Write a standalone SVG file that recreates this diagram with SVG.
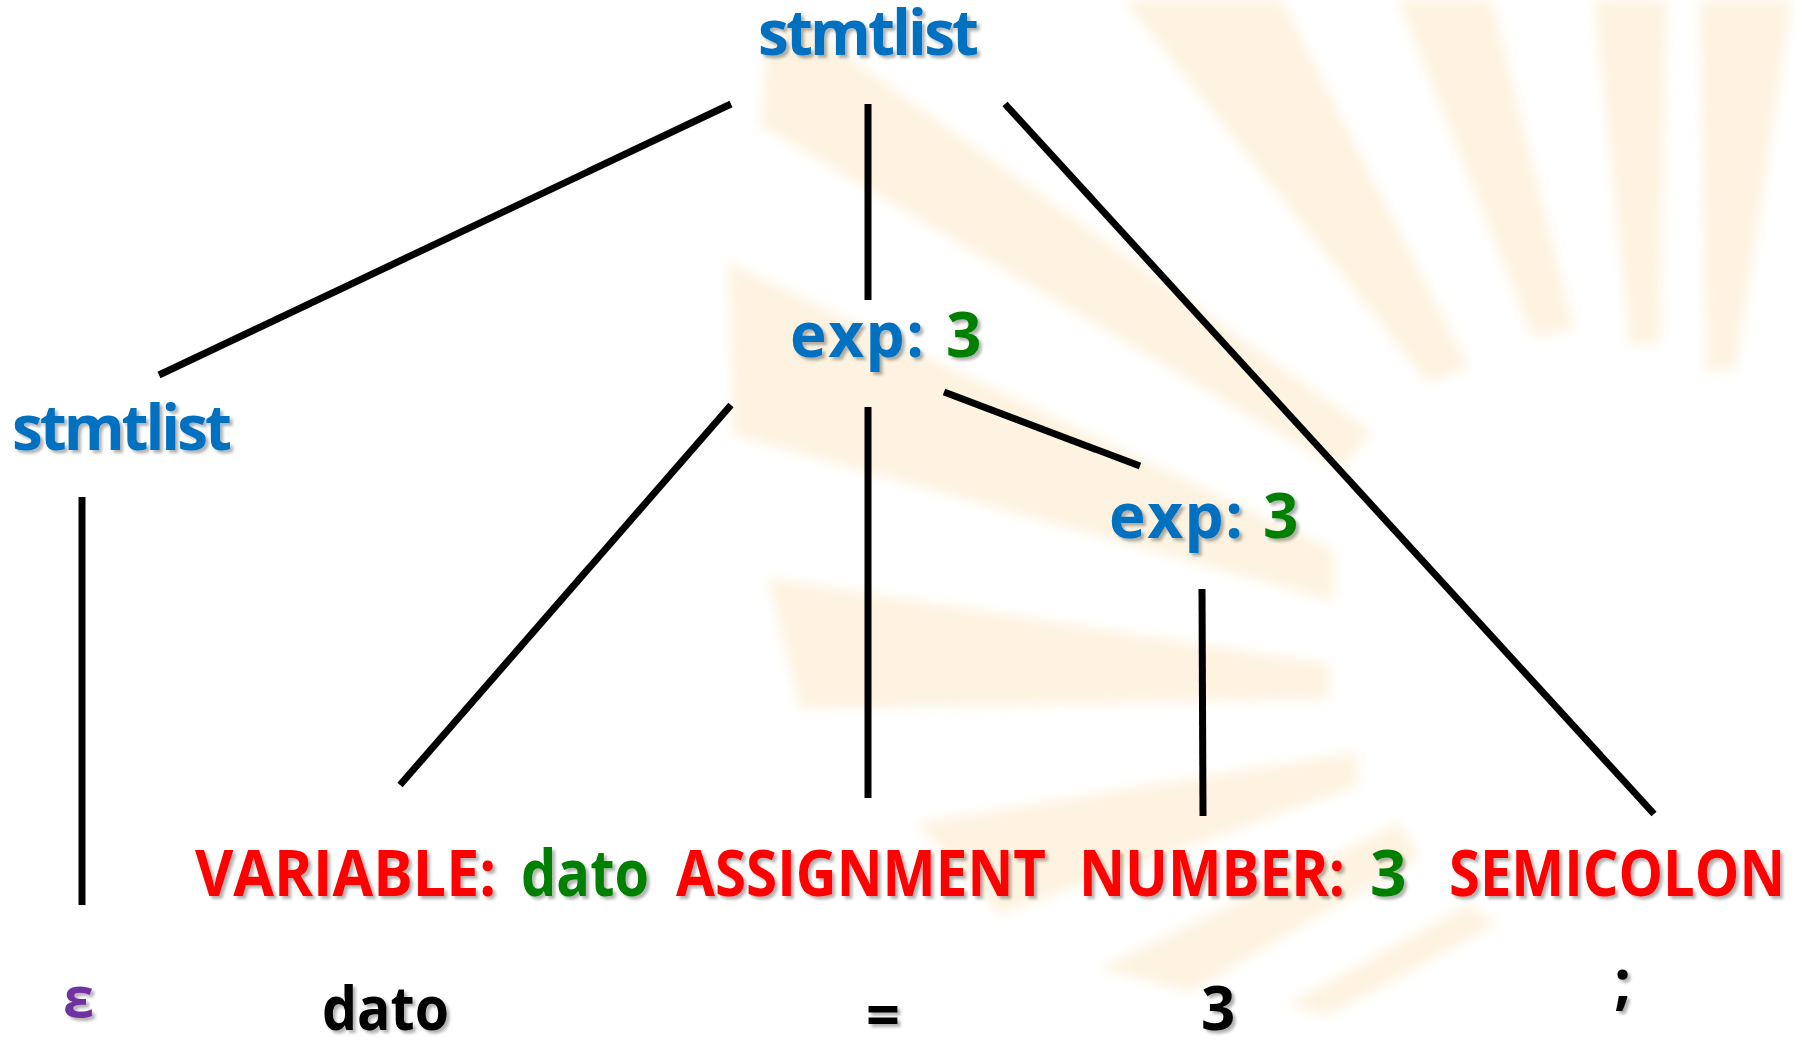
<svg xmlns="http://www.w3.org/2000/svg" width="1796" height="1046" viewBox="0 0 1796 1046">
<defs>
<filter id="blur" x="-10%" y="-10%" width="120%" height="120%"><feGaussianBlur stdDeviation="6"/></filter>
<filter id="sh" x="-5%" y="-20%" width="115%" height="150%">
<feGaussianBlur in="SourceAlpha" stdDeviation="1.6"/>
<feOffset dx="3" dy="3" result="o"/>
<feFlood flood-color="#000" flood-opacity="0.3"/>
<feComposite in2="o" operator="in"/>
<feMerge><feMergeNode/><feMergeNode in="SourceGraphic"/></feMerge>
</filter>
<style>
.ray{fill:#F9D9A0;opacity:0.32}
.t{font-family:"Open Sans","Noto Sans","DejaVu Sans",sans-serif;font-weight:bold;filter:url(#sh)}
.nt{font-size:62px;fill:#0070C0}
.tok{font-size:64px;fill:#FF0000}
.val{fill:#008000}
.lex{font-size:60px;fill:#000}
.eps{font-size:56px;fill:#7030A0}
.edge{stroke:#000;stroke-width:7;fill:none}
</style>
</defs>
<rect width="1796" height="1046" fill="#fff"/>
<g id="background" filter="url(#blur)">
<polygon class="ray" points="1427,382 1469,368 1282,0 1124,0"/>
<polygon class="ray" points="1532,336 1574,330 1492,0 1398,0"/>
<polygon class="ray" points="1630,345 1660,343 1667,0 1594,0"/>
<polygon class="ray" points="1706,372 1736,368 1792,0 1700,0"/>
<polygon class="ray" points="1372,432 1340,470 760,125 768,40 800,22"/>
<polygon class="ray" points="1334,550 1334,601 733,435 728,262"/>
<polygon class="ray" points="1329,664 1329,699 800,709 768,578"/>
<polygon class="ray" points="1357,752 1357,786 1000,914 917,823"/>
<polygon class="ray" points="1399,823 1420,857 1190,992 1100,968"/>
<polygon class="ray" points="1469,904 1497,924 1329,1015 1287,1005"/>
</g>
<g id="connectors">
<line class="edge" x1="731" y1="104" x2="159" y2="375"/>
<line class="edge" x1="868" y1="104" x2="868" y2="300"/>
<line class="edge" x1="1005" y1="104" x2="1654" y2="814"/>
<line class="edge" x1="82" y1="497" x2="82" y2="905"/>
<line class="edge" x1="731" y1="405" x2="400" y2="785"/>
<line class="edge" x1="868" y1="407" x2="868" y2="798"/>
<line class="edge" x1="944" y1="392" x2="1140" y2="466"/>
<line class="edge" x1="1202" y1="589" x2="1203" y2="816"/>
</g>
<g id="stmtlist-root"><text class="t nt" x="758" y="55" textLength="221">stmtlist</text></g>
<g id="stmtlist-left"><text class="t nt" x="12" y="450" textLength="220">stmtlist</text></g>
<g id="exp-outer"><text class="t nt" x="790" y="357" textLength="134">exp:</text><text class="t nt val" x="946" y="357">3</text></g>
<g id="exp-inner"><text class="t nt" x="1109" y="538" textLength="134">exp:</text><text class="t nt val" x="1263" y="538">3</text></g>
<g id="tok-variable"><text class="t tok" x="195" y="896" textLength="301" lengthAdjust="spacingAndGlyphs">VARIABLE:</text><text class="t tok val" x="521" y="896" textLength="128" lengthAdjust="spacingAndGlyphs">dato</text></g>
<g id="tok-assignment"><text class="t tok" x="676" y="896" textLength="370" lengthAdjust="spacingAndGlyphs">ASSIGNMENT</text></g>
<g id="tok-number"><text class="t tok" x="1079" y="896" textLength="266" lengthAdjust="spacingAndGlyphs">NUMBER:</text><text class="t tok val" x="1370" y="896">3</text></g>
<g id="tok-semicolon"><text class="t tok" x="1449" y="896" textLength="336" lengthAdjust="spacingAndGlyphs">SEMICOLON</text></g>
<g id="lex-eps"><text class="t eps" x="63" y="1017">ε</text></g>
<g id="lex-dato"><text class="t lex" x="322" y="1030" textLength="127" lengthAdjust="spacingAndGlyphs">dato</text></g>
<g id="lex-eq"><text class="t lex" x="866" y="1036" textLength="34" lengthAdjust="spacingAndGlyphs">=</text></g>
<g id="lex-3"><text class="t lex" x="1201" y="1030">3</text></g>
<g id="lex-semi"><text class="t lex" x="1614" y="1003">;</text></g>
</svg>
